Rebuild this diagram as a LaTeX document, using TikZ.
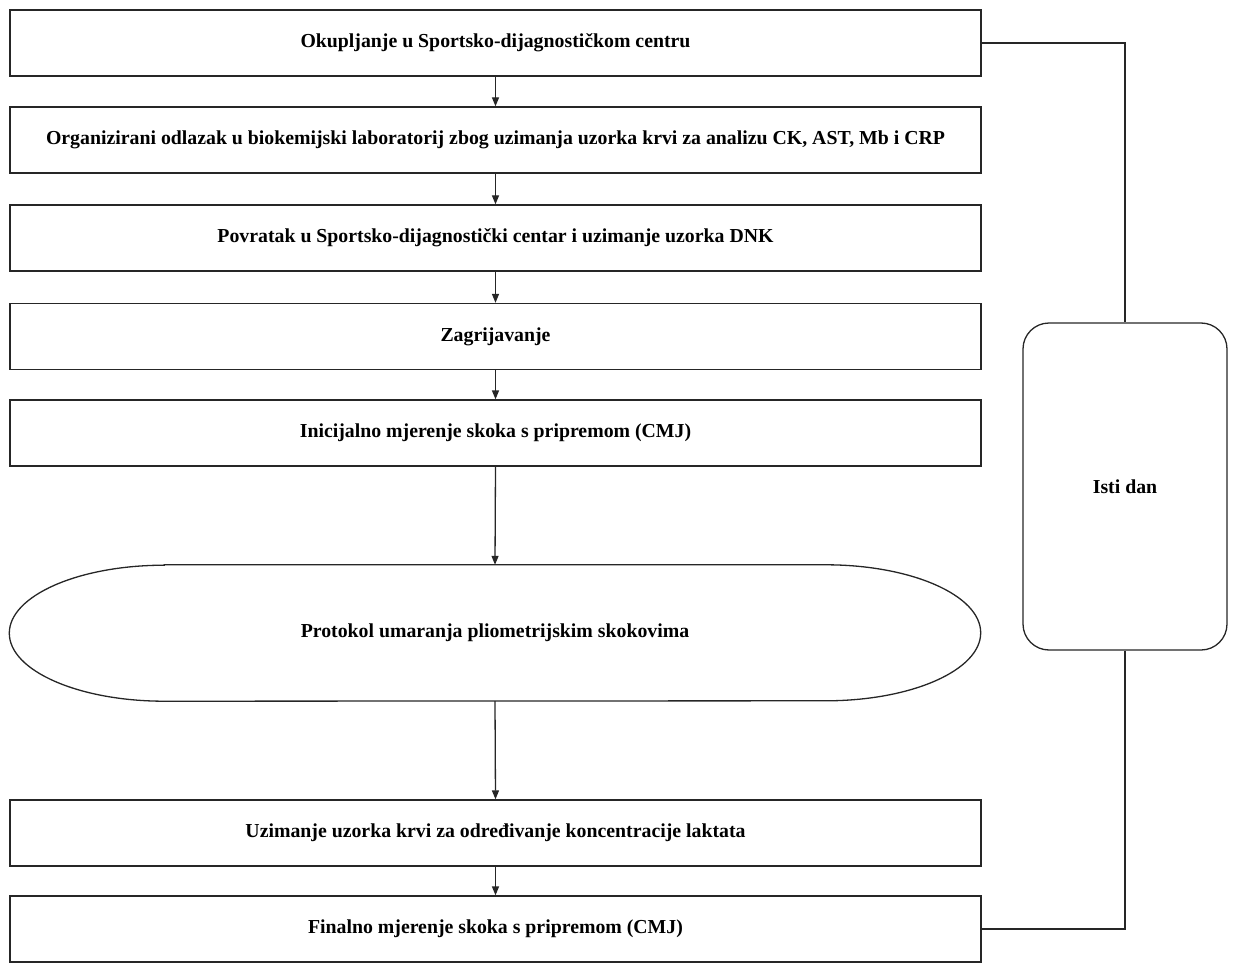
\documentclass[tikz,border=0pt]{standalone}
\usepackage{fontspec}
\setmainfont{Liberation Serif}
\usetikzlibrary{arrows.meta,calc}
\begin{document}
\begin{tikzpicture}[x=1pt,y=1pt,
  every node/.style={font=\fontsize{19.8}{23}\selectfont\bfseries, text=black},
  box/.style={draw=black!85, line width=1.3pt, minimum width=971pt, minimum height=66pt, inner sep=0pt},
  plain/.style={minimum width=971pt, minimum height=136pt, inner sep=0pt},
  rbox/.style={draw=black!85, line width=1.3pt, rounded corners=26pt, minimum width=204pt, minimum height=327pt, inner sep=0pt},
  arr/.style={draw=black!85, line width=1.3pt, -{Triangle[length=9pt,width=7pt]}},
  conn/.style={draw=black!85, line width=1.3pt}]
\useasboundingbox (0,0) rectangle (1235,-963);
\node[box] (b1) at (495.5,-43) {Okupljanje u Sportsko-dijagnostičkom centru};
\node[box] (b2) at (495.5,-140) {Organizirani odlazak u biokemijski laboratorij zbog uzimanja uzorka krvi za analizu CK, AST, Mb i CRP};
\node[box] (b3) at (495.5,-238) {Povratak u Sportsko-dijagnostički centar i uzimanje uzorka DNK};
\node[box] (b4) at (495.5,-336.5) {Zagrijavanje};
\node[box] (b5) at (495.5,-433) {Inicijalno mjerenje skoka s pripremom (CMJ)};
\node[plain] (p) at (495,-633) {Protokol umaranja pliometrijskim skokovima};
\draw[conn] ($(p.north west)+(155,0)$) -- ($(p.north east)+(-155,0)$)
  arc[start angle=90,end angle=-90,x radius=155,y radius=68]
  -- ($(p.south west)+(155,0)$)
  arc[start angle=270,end angle=90,x radius=155,y radius=68] -- cycle;
\node[box] (b6) at (495.5,-833) {Uzimanje uzorka krvi za određivanje koncentracije laktata};
\node[box] (b7) at (495.5,-929) {Finalno mjerenje skoka s pripremom (CMJ)};
\node[rbox] (r) at (1125,-486.5) {Isti dan};
\draw[arr] (b1.south) -- (b2.north);
\draw[arr] (b2.south) -- (b3.north);
\draw[arr] (b3.south) -- (b4.north);
\draw[arr] (b4.south) -- (b5.north);
\draw[arr] (b5.south) -- (p.north);
\draw[arr] (p.south) -- (b6.north);
\draw[arr] (b6.south) -- (b7.north);
\draw[conn] (b1.east) -| (r.north);
\draw[conn] (r.south) |- (b7.east);
\end{tikzpicture}
\end{document}
